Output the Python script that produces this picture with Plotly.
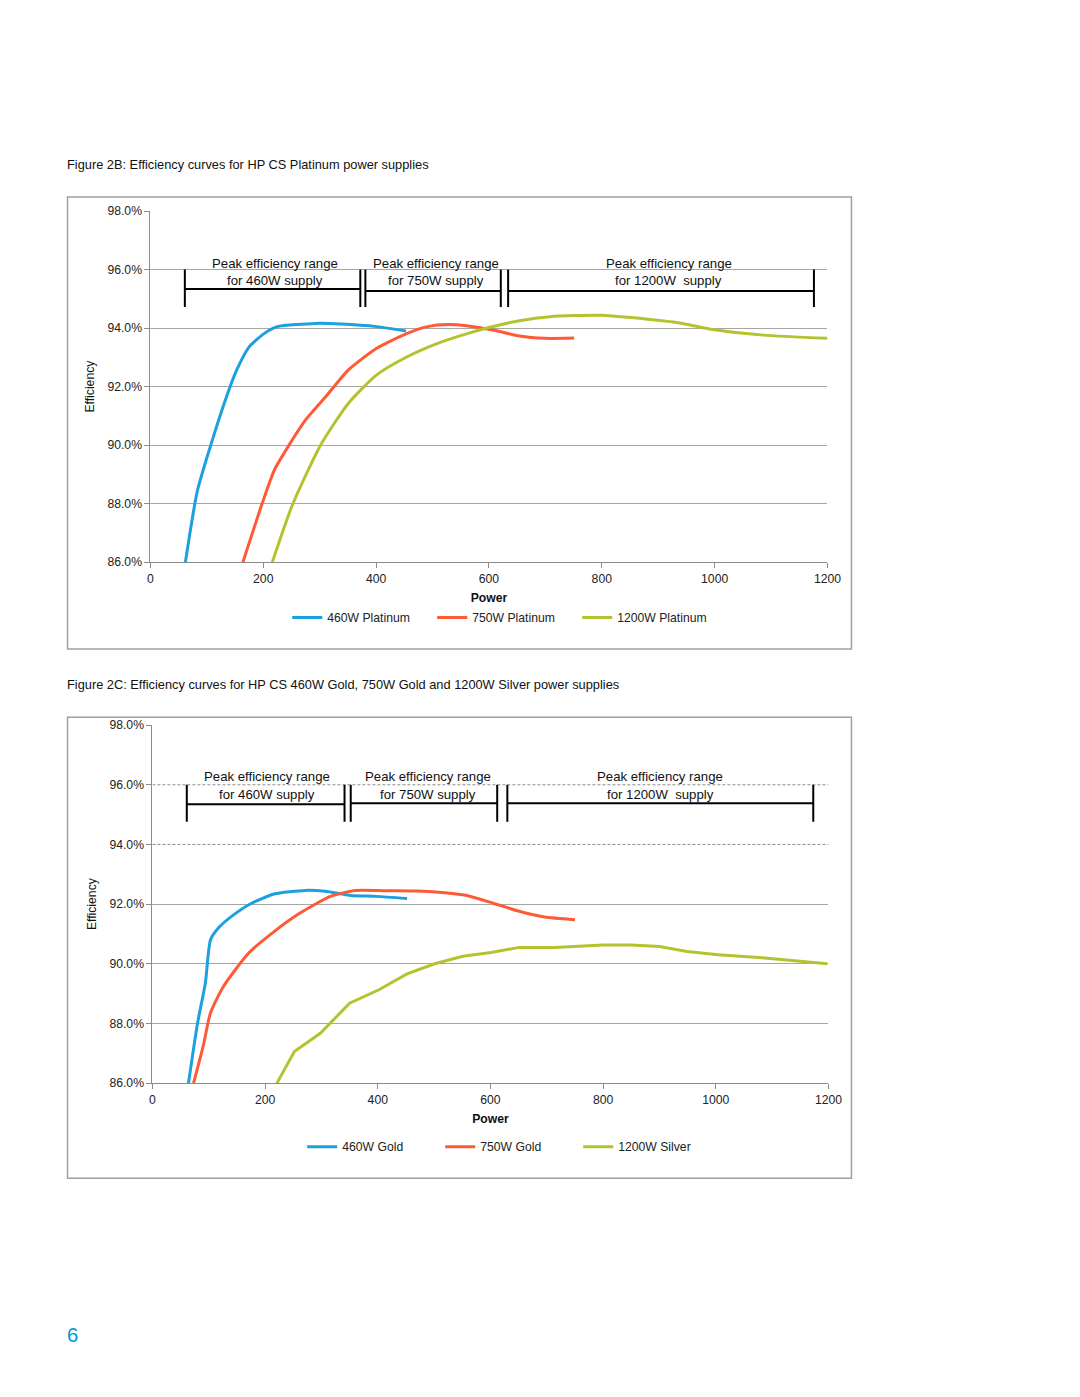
import plotly.graph_objects as go

# ---------------- data ----------------
# Figure 2B (Platinum)
p460_x = [62, 83, 107, 135, 153, 175, 202, 225, 293, 338, 401, 453]
p460_y = [86.0, 88.42, 90.0, 91.66, 92.57, 93.36, 93.82, 94.05, 94.16, 94.14, 94.05, 93.9]
p750_x = [164, 198, 220, 248, 275, 311, 351, 401, 455, 491, 527, 563, 609, 654, 699, 751]
p750_y = [86.0, 88.0, 89.16, 90.07, 90.86, 91.66, 92.57, 93.31, 93.82, 94.05, 94.12, 94.07, 93.93, 93.73, 93.65, 93.66]
p1200_x = [216, 252, 302, 351, 401, 455, 509, 563, 600, 654, 708, 798, 852, 943, 997, 1087, 1200]
p1200_y = [86.0, 87.97, 90.01, 91.43, 92.40, 93.02, 93.48, 93.82, 94.02, 94.25, 94.39, 94.44, 94.36, 94.16, 93.95, 93.76, 93.65]

# Figure 2C (Gold / Silver)
g460_x = [64, 80, 94, 103, 117, 144, 176, 216, 271, 307, 352, 398, 452]
g460_y = [86.0, 88.0, 89.36, 90.8, 91.2, 91.64, 92.03, 92.34, 92.46, 92.43, 92.29, 92.26, 92.19]
g750_x = [73, 90, 103, 126, 171, 216, 262, 316, 361, 415, 470, 524, 560, 605, 651, 696, 750]
g750_y = [86.0, 87.23, 88.35, 89.24, 90.36, 91.08, 91.70, 92.26, 92.46, 92.45, 92.44, 92.37, 92.28, 92.03, 91.76, 91.57, 91.48]
s1200_x = [221, 252, 298, 350, 402, 452, 501, 551, 601, 651, 714, 759, 800, 850, 900, 949, 1004, 1076, 1139, 1198]
s1200_y = [86.0, 87.06, 87.67, 88.68, 89.13, 89.66, 90.0, 90.25, 90.38, 90.55, 90.55, 90.58, 90.63, 90.63, 90.58, 90.41, 90.30, 90.21, 90.11, 90.0]

top_names = ["460W Platinum", "750W Platinum", "1200W Platinum"]
bot_names = ["460W Gold", "750W Gold", "1200W Silver"]

# peak efficiency ranges (W) for the bracket annotations
top_ranges = [(61, 372), (381, 621), (634, 1176)]
bot_ranges = [(61, 341), (352, 612), (630, 1173)]
range_line1 = "Peak efficiency range"
range_line2 = ["for 460W supply", "for 750W supply", "for 1200W  supply"]

x_ticks = [0, 200, 400, 600, 800, 1000, 1200]
y_ticks = [86, 88, 90, 92, 94, 96, 98]
y_ticktext = ["86.0%", "88.0%", "90.0%", "92.0%", "94.0%", "96.0%", "98.0%"]
bot_solid_grid = [86, 88, 90, 92, 98]
bot_dashed_grid = [94, 96]

title_2b = "Figure 2B: Efficiency curves for HP CS Platinum power supplies"
title_2c = "Figure 2C: Efficiency curves for HP CS 460W Gold, 750W Gold and 1200W Silver power supplies"

# ---------------- styling ----------------
BODY = 8           # default page margin around the plot div
W, H = 1064, 1381
# compensation for the capture's slight rescale (target pixel -> page pixel)
AX, BX = 0.9854, 2.5
AY, BY = 0.9898, 7.0
FS = 1.0 / AX      # font scale compensation
colors = ["#1BA0E0", "#FF5A36", "#B5C230"]
FONT = "Liberation Sans, Arial, sans-serif"
grid_c = "#A6A6A6"


def px(xp):
    return ((xp - BX) / AX - BODY) / W


def py(yp):
    return 1 - ((yp - BY) / AY - BODY) / H


def fs(s):
    return round(s * FS, 1)


fig = go.Figure()

top = [(p460_x, p460_y), (p750_x, p750_y), (p1200_x, p1200_y)]
bot = [(g460_x, g460_y), (g750_x, g750_y), (s1200_x, s1200_y)]

for i, (xs, ys) in enumerate(top):
    fig.add_trace(go.Scatter(x=xs, y=ys, mode="lines", name=top_names[i],
                             line=dict(color=colors[i], width=3, shape="spline", smoothing=0.6),
                             xaxis="x", yaxis="y", legend="legend"))
for i, (xs, ys) in enumerate(bot):
    shape = "spline" if i < 2 else "linear"
    fig.add_trace(go.Scatter(x=xs, y=ys, mode="lines", name=bot_names[i],
                             line=dict(color=colors[i], width=3, shape=shape, smoothing=0.6),
                             xaxis="x2", yaxis="y2", legend="legend2"))

axis_common = dict(showline=True, linecolor="#8C8C8C", linewidth=1, ticks="outside",
                   ticklen=5, tickcolor="#8C8C8C", tickfont=dict(family=FONT, size=fs(12), color="#222"),
                   zeroline=False)
title_font = dict(family=FONT, size=fs(12), color="#111")

fig.update_layout(
    width=W, height=H, margin=dict(l=0, r=0, t=0, b=0),
    paper_bgcolor="white", plot_bgcolor="white",
    font=dict(family=FONT, size=fs(12), color="#222"),
    xaxis=dict(domain=[px(150), px(828)], range=[0, 1200], tickvals=x_ticks, showgrid=False,
               anchor="y", title=dict(text="<b>Power</b>", standoff=8, font=title_font),
               **axis_common),
    yaxis=dict(domain=[py(562), py(211)], range=[86, 98], tickvals=y_ticks, ticktext=y_ticktext,
               showgrid=True, gridcolor=grid_c, gridwidth=1,
               anchor="x", title=dict(text="Efficiency", standoff=10, font=title_font),
               **axis_common),
    xaxis2=dict(domain=[px(152), px(829)], range=[0, 1200], tickvals=x_ticks, showgrid=False,
                anchor="y2", title=dict(text="<b>Power</b>", standoff=8, font=title_font),
                **axis_common),
    yaxis2=dict(domain=[py(1083), py(725)], range=[86, 98], tickvals=y_ticks, ticktext=y_ticktext,
                showgrid=False,
                minor=dict(tickvals=bot_solid_grid, showgrid=True, gridcolor=grid_c, gridwidth=1, ticks=""),
                anchor="x2", title=dict(text="Efficiency", standoff=10, font=title_font),
                **axis_common),
    legend=dict(orientation="h", x=px(287), y=py(603), xanchor="left", yanchor="top",
                entrywidth=100, entrywidthmode="pixels", bgcolor="rgba(0,0,0,0)",
                font=dict(family=FONT, size=fs(12), color="#222"), itemwidth=30),
    legend2=dict(orientation="h", x=px(302), y=py(1132), xanchor="left", yanchor="top",
                 entrywidth=93, entrywidthmode="pixels", bgcolor="rgba(0,0,0,0)",
                 font=dict(family=FONT, size=fs(12), color="#222"), itemwidth=30),
    showlegend=True,
)

shapes = []
# chart boxes
for (x0, y0, x1, y1) in [(67, 197, 852, 649), (67, 717, 852, 1178)]:
    shapes.append(dict(type="rect", xref="paper", yref="paper", x0=px(x0), x1=px(x1),
                       y0=py(y1), y1=py(y0), line=dict(color="#A0A0A0", width=1.5),
                       fillcolor="rgba(0,0,0,0)", layer="below"))

# dashed gridlines of the lower chart (above the curves' range, so drawn on top)
for gv in bot_dashed_grid:
    shapes.append(dict(type="line", xref="x2", yref="y2", x0=0, x1=1200, y0=gv, y1=gv,
                       line=dict(color="#8A8A8A", width=1, dash="3px,2px"), layer="above"))

annotations = []


def add_brackets(ranges, xr, yr, hy, vtop, vbot, text_y1, text_y2, text_dx):
    for k, (a, b) in enumerate(ranges):
        shapes.append(dict(type="line", xref=xr, yref=yr, x0=a, x1=b, y0=hy[k], y1=hy[k],
                           line=dict(color="black", width=2)))
        for xv in (a, b):
            shapes.append(dict(type="line", xref=xr, yref=yr, x0=xv, x1=xv, y0=vbot, y1=vtop,
                               line=dict(color="black", width=2)))
        cx = (a + b) / 2 + text_dx[k]
        annotations.append(dict(x=cx, y=text_y1, xref=xr, yref=yr, text=range_line1,
                                showarrow=False, font=dict(family=FONT, size=fs(13), color="#111")))
        annotations.append(dict(x=cx, y=text_y2, xref=xr, yref=yr, text=range_line2[k],
                                showarrow=False, font=dict(family=FONT, size=fs(13), color="#111")))


add_brackets(top_ranges, "x", "y", [95.34, 95.27, 95.27], 96.0, 94.72, 96.22, 95.64, [4, 5, 14])
add_brackets(bot_ranges, "x2", "y2", [95.35, 95.38, 95.38], 96.0, 94.76, 96.27, 95.69, [2, 7, 0])

annotations.append(dict(x=px(64), y=py(164), xref="paper", yref="paper", text=title_2b,
                        showarrow=False, xanchor="left", yanchor="middle",
                        font=dict(family=FONT, size=fs(12.6), color="#111")))
annotations.append(dict(x=px(64), y=py(684), xref="paper", yref="paper", text=title_2c,
                        showarrow=False, xanchor="left", yanchor="middle",
                        font=dict(family=FONT, size=fs(12.6), color="#111")))
annotations.append(dict(x=px(64), y=py(1335), xref="paper", yref="paper", text="6",
                        showarrow=False, xanchor="left", yanchor="middle",
                        font=dict(family=FONT, size=fs(20), color="#0096D6")))

fig.update_layout(shapes=shapes, annotations=annotations)
fig.write_html("out.html")
